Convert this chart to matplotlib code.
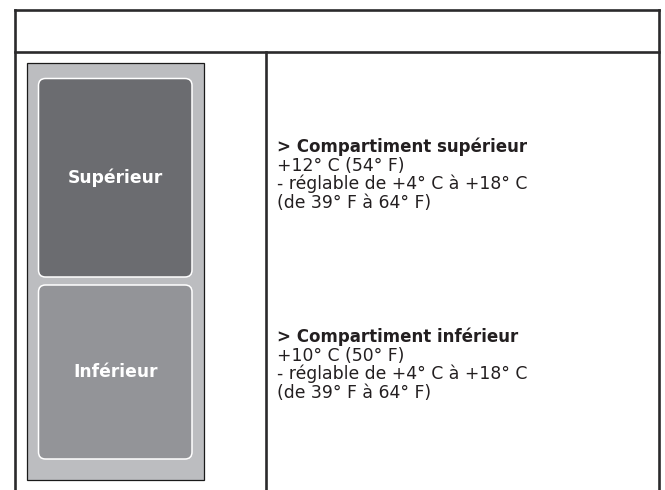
import matplotlib.pyplot as plt
from matplotlib.patches import FancyBboxPatch, Rectangle

# ---------- Content ----------
compartments = ["Supérieur", "Inférieur"]
headings = ["> Compartiment supérieur", "> Compartiment inférieur"]
set_temps = ["+12° C (54° F)", "+10° C (50° F)"]
ranges_c = ["- réglable de +4° C à +18° C", "- réglable de +4° C à +18° C"]
ranges_f = ["(de 39° F à 64° F)", "(de 39° F à 64° F)"]
fills = ["#6b6c70", "#939498"]

# ---------- Layout (pixels) ----------
W, H = 665, 490
line_col = "#2b2a2c"
font = "DejaVu Sans"

fig = plt.figure(figsize=(W / 100, H / 100), dpi=100)
ax = fig.add_axes([0, 0, 1, 1])
ax.set_xlim(0, W)
ax.set_ylim(H, 0)
ax.axis("off")

# table frame
lw = 1.9
ax.plot([15, 659], [10, 10], color=line_col, lw=lw, solid_capstyle="projecting")
ax.plot([15, 659], [52, 52], color=line_col, lw=lw)
ax.plot([15, 15], [10, H + 5], color=line_col, lw=lw)
ax.plot([659, 659], [10, H + 5], color=line_col, lw=lw)
ax.plot([266, 266], [52, H + 5], color=line_col, lw=lw)

# fridge body
ax.add_patch(Rectangle((26.5, 63.5), 177, 416, facecolor="#bcbdc0",
                       edgecolor="#1a1a1a", lw=0.9))

# compartments
boxes = [(38.5, 78.5, 153.5, 198.5), (38.5, 285, 153.5, 174)]
for (x, y, w, h), name, fc in zip(boxes, compartments, fills):
    ax.add_patch(FancyBboxPatch((x, y), w, h,
                                boxstyle="round,pad=0,rounding_size=7",
                                facecolor=fc, edgecolor="white", lw=1.1))
    ax.text(x + w / 2, y + h / 2, name, color="white", fontsize=12.3,
            fontweight="bold", family=font, ha="center", va="center")

# descriptions
starts = [147, 337]
step = 18.5
for i in range(2):
    y0 = starts[i]
    lines = [headings[i], set_temps[i], ranges_c[i], ranges_f[i]]
    for j, t in enumerate(lines):
        bold = j == 0
        ax.text(277, y0 + j * step, t, color="#231f20",
                fontsize=12.0 if bold else 12.4,
                family=font, fontweight="bold" if bold else "normal",
                ha="left", va="center")

fig.savefig("out.png", dpi=100)
